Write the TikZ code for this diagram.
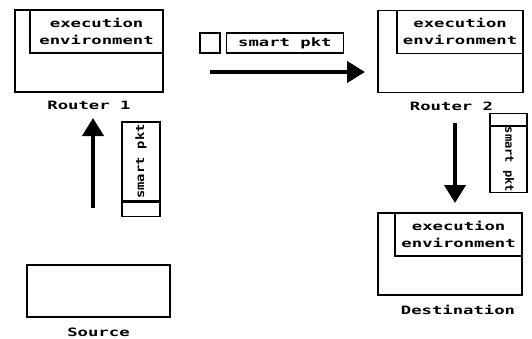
\documentclass[tikz,border=0pt]{standalone}
\usepackage{fontspec}
\newfontfamily\pixfont{DejaVu Sans Mono Bold}
\usetikzlibrary{arrows.meta,positioning}
\newcommand{\wide}[2][1.5]{\scalebox{#1}[1]{#2}}

\begin{document}
\begin{tikzpicture}[
    x=1pt, y=-1pt,
    every node/.style={font=\pixfont\fontsize{11.5}{17}\selectfont, inner sep=0pt},
    host/.style={draw, line width=1.6pt, minimum width=#1, minimum height=82pt},
    host/.default=148pt,
    env/.style={draw, line width=1.4pt, align=center, minimum height=43pt},
    pkt/.style={draw, line width=1.4pt, minimum height=20pt},
    hdr/.style={draw, line width=1.4pt, minimum height=20pt, minimum width=#1},
    flow/.style={-{Triangle[length=18pt,width=21pt]}, line width=4pt}
]
\useasboundingbox (0,0) rectangle (532,338);
% hosts
\node[host] (router1) at (89,51) {};
\node[env, minimum width=133pt, anchor=north east] (env1) at (router1.north east) {\wide{execution}\\\wide{environment}};
\node[below=8pt of router1] (lab1) {\wide{Router 1}};

\node[host=145pt] (router2) at (450.5,51.5) {};
\node[env, minimum width=126pt, anchor=north east] (env2) at (router2.north east) {\wide{execution}\\\wide{environment}};
\node[below=8pt of router2, xshift=1pt] (lab2) {\wide{Router 2}};

\node[host=144pt] (dest) at (450,254) {};
\node[env, minimum width=127pt, anchor=north east] (env3) at (dest.north east) {\wide{execution}\\\wide{environment}};
\node[below=9pt of dest, xshift=8pt] (lab3) {\wide{Destination}};

\node[host=143pt, minimum height=52pt] (src) at (98.5,291) {};
\node[below=10pt of src] (lab4) {\wide{Source}};

% packets
\node[hdr=20pt] (hpkthdr) at (210,43) {};
\node[pkt, minimum width=117pt, right=5pt of hpkthdr] (hpkt) {\wide{smart pkt}};

\node[pkt, rotate=90, minimum width=79pt, minimum height=38pt] (spkt) at (141,161.5) {\wide[1.2]{smart pkt}};
\node[hdr=14pt, rotate=90, minimum height=38pt, anchor=east] (spkthdr) at (spkt.west) {};

\node[pkt, rotate=-90, minimum width=65pt, minimum height=37pt] (rpkt) at (508.5,159.5) {\wide[1.05]{smart pkt}};
\node[hdr=12pt, rotate=-90, minimum height=37pt, anchor=east] (rpkthdr) at (rpkt.west) {};

% moves
\coordinate (up start) at (93,208);
\coordinate (up end) at (93,118);
\coordinate (right start) at (210,72);
\coordinate (right end) at (365,72);
\coordinate (down start) at (455,123);
\coordinate (down end) at (455,203);
\draw[flow] (up start) -- (up end);
\draw[flow] (right start) -- (right end);
\draw[flow] (down start) -- (down end);
\end{tikzpicture}
\end{document}
